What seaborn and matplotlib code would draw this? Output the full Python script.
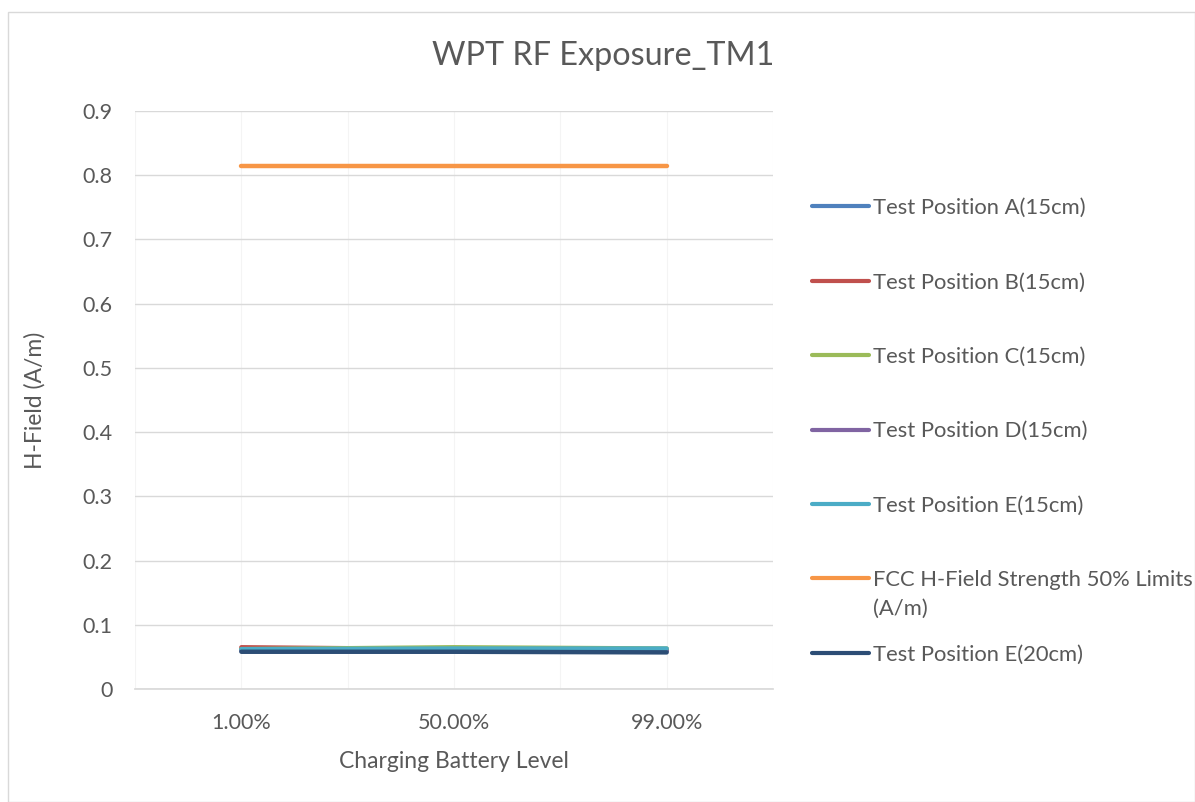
import pandas as pd
import matplotlib.pyplot as plt
import seaborn as sns
from matplotlib.patches import Rectangle

# Chart data
levels = ['1.00%', '50.00%', '99.00%']
pos_a_15 = [0.061, 0.060, 0.060]
pos_b_15 = [0.065, 0.062, 0.061]
pos_c_15 = [0.062, 0.065, 0.063]
pos_d_15 = [0.060, 0.059, 0.059]
pos_e_15 = [0.062, 0.063, 0.063]
fcc_limit = [0.815, 0.815, 0.815]
pos_e_20 = [0.058, 0.058, 0.057]

series_names = ['Test Position A(15cm)', 'Test Position B(15cm)', 'Test Position C(15cm)',
                'Test Position D(15cm)', 'Test Position E(15cm)',
                'FCC H-Field Strength 50% Limits (A/m)', 'Test Position E(20cm)']
series_vals = [pos_a_15, pos_b_15, pos_c_15, pos_d_15, pos_e_15, fcc_limit, pos_e_20]
colors = ['#4f81bd', '#c0504d', '#9bbb59', '#8064a2', '#4bacc6', '#f79646', '#2c4d75']

rows = []
for name, vals in zip(series_names, series_vals):
    for i, v in enumerate(vals):
        rows.append({'x': i, 'Level': levels[i], 'H-Field': v, 'Series': name})
df = pd.DataFrame(rows)

sns.set_theme(style='white')
plt.rcParams['font.family'] = ['Lato', 'DejaVu Sans']
grey = '#595959'

W, H = 1195, 802
fig = plt.figure(figsize=(W / 100, H / 100), dpi=100)
ax = fig.add_axes([135 / W, 1 - 689 / H, (773 - 135) / W, (689 - 111) / H])

sns.lineplot(data=df, x='x', y='H-Field', hue='Series', hue_order=series_names,
             palette=colors, linewidth=3.2, ax=ax, legend=False,
             solid_capstyle='round')

ax.set_xlim(-0.5, 2.5)
ax.set_ylim(0, 0.9)
ax.set_yticks([i / 10 for i in range(10)])
ax.set_yticklabels(['0'] + [f'{i / 10:.1f}' for i in range(1, 10)])
ax.set_xticks([0, 1, 2])
ax.set_xticklabels(levels)
ax.set_xticks([-0.5, 0.5, 1.5, 2.5], minor=True)
ax.tick_params(axis='x', which='major', length=0, pad=17, labelsize=15.5, labelcolor=grey)
ax.tick_params(axis='x', which='minor', length=6, color='#d9d9d9', width=1)
ax.tick_params(axis='y', length=0, pad=16, labelsize=15.5, labelcolor=grey)
ax.grid(axis='y', color='#d9d9d9', linewidth=1)
ax.grid(axis='x', which='both', color='#f4f4f4', linewidth=0.8)
for s in ['top', 'right', 'left']:
    ax.spines[s].set_visible(False)
ax.spines['bottom'].set_color('#d9d9d9')
ax.set_axisbelow(True)

ax.set_xlabel('Charging Battery Level', fontsize=16.5, color=grey, va='center')
ax.xaxis.set_label_coords(0.5, -(762 - 689) / 578)
ax.set_ylabel('H-Field (A/m)', fontsize=16.5, color=grey, va='center')
ax.yaxis.set_label_coords(-(135 - 35) / 638, 0.5)
fig.text(603 / W, 1 - 56 / H, 'WPT RF Exposure_TM1', fontsize=23.3, color=grey,
         ha='center', va='center')

# legend on the right, one entry per series
handles = [plt.Line2D([0], [0], color=c, linewidth=3.0, solid_capstyle='round') for c in colors]
labels = [n.replace(' (A/m)', '') for n in series_names]
leg = fig.legend(handles, labels, loc='upper left', bbox_to_anchor=(812 / W, 1 - 198 / H),
                 frameon=False, fontsize=15.8, labelspacing=2.48, handlelength=2.6,
                 handletextpad=0.18, labelcolor=grey, borderpad=0, borderaxespad=0)
fig.text(873 / W, 1 - 609 / H, '(A/m)', fontsize=15.8, color=grey, ha='left', va='center')

fig.add_artist(Rectangle((8 / W, 0), 1 - 8 / W, 1 - 12 / H, transform=fig.transFigure,
                         fill=False, edgecolor='#d9d9d9', linewidth=1))

fig.savefig('out.png', dpi=100)
